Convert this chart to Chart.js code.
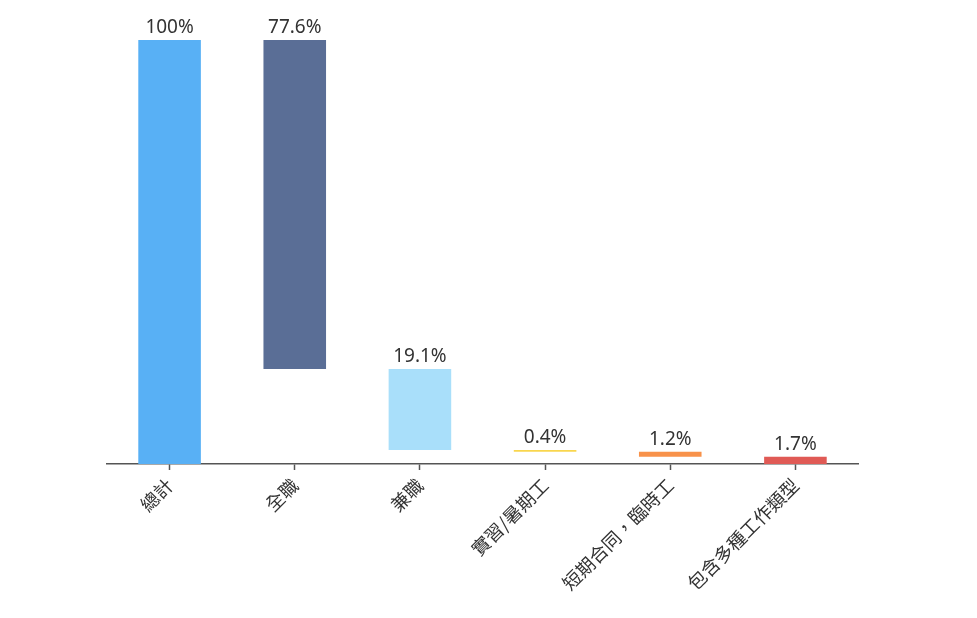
<!DOCTYPE html>
<html><head><meta charset="utf-8">
<script src="https://cdn.jsdelivr.net/npm/chart.js@4"></script>
<style>html,body{margin:0;padding:0;background:#fff}#wrap{width:977px;height:618px}</style>
</head><body><div id="wrap"><canvas id="c"></canvas></div>
<script>
const categories = ["總計","全職","兼職","實習/暑期工","短期合同，臨時工","包含多種工作類型"];
const barStart = [0, 22.4, 3.3, 2.9, 1.7, 0];
const barEnd = [100, 100, 22.4, 3.3, 2.9, 1.7];
const valueLabels = ["100%","77.6%","19.1%","0.4%","1.2%","1.7%"];
const colors = ["#58b0f5","#5a6e96","#a9dffa","#f9d64e","#f8924a","#e05a55"];

const data = categories.map((c,i)=>[barStart[i], barEnd[i]]);

const labelPlugin = {
  id:'vlabels',
  afterDatasetsDraw(chart){
    const ctx = chart.ctx;
    const meta = chart.getDatasetMeta(0);
    ctx.save();
    ctx.font = '19px "Noto Sans", sans-serif';
    ctx.fillStyle = '#333';
    ctx.textAlign = 'center';
    ctx.textBaseline = 'bottom';
    meta.data.forEach((bar,i)=>{
      const top = Math.min(bar.y, bar.base);
      ctx.fillText(valueLabels[i], bar.x, top - 3);
    });
    ctx.restore();
  }
};

new Chart(document.getElementById('c'), {
  type:'bar',
  data:{labels:categories, datasets:[{data:data, backgroundColor:colors, borderWidth:0, barPercentage:1, categoryPercentage:0.5}]},
  options:{
    responsive:true, maintainAspectRatio:false, animation:false,
    layout:{padding:{left:107,right:119,top:40,bottom:0}},
    plugins:{legend:{display:false},tooltip:{enabled:false}},
    scales:{
      y:{display:false,min:0,max:100},
      x:{
        offset:true,
        grid:{display:true, offset:false, drawOnChartArea:false, drawTicks:true, tickLength:6, tickColor:'#555', tickWidth:1.5},
        border:{display:true,color:'#555',width:1.5},
        ticks:{maxRotation:45,minRotation:45,color:'#333',font:{family:'"Noto Sans CJK TC", sans-serif',size:18.5},padding:4},
        afterFit(scale){scale.height=154;}
      }
    }
  },
  plugins:[labelPlugin]
});
</script></body></html>
